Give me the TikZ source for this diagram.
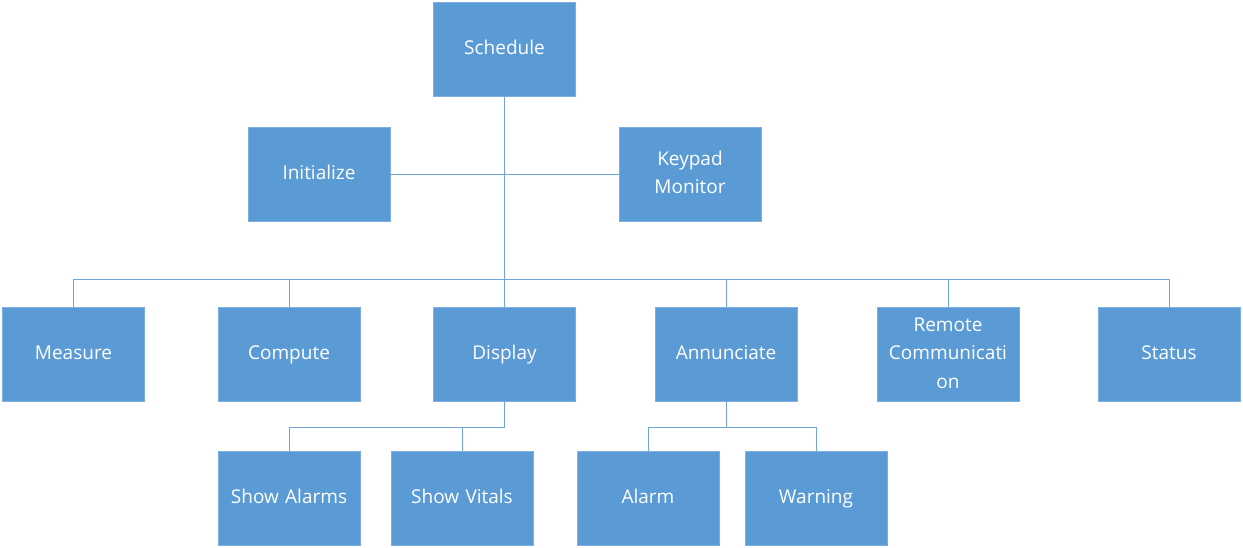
\documentclass[tikz,border=0pt]{standalone}
\usepackage{fontspec}
\setmainfont{Open Sans}
\begin{document}
\begin{tikzpicture}[x=1pt,y=-1pt,
  box/.style={draw=boxblue!80!white, line width=0.6pt, fill=boxblue, text=white, minimum width=142pt, minimum height=94pt, inner sep=0pt, font=\fontsize{19}{28.5}\selectfont, align=center, text width=140pt, execute at begin node=\strut, execute at end node=\strut},
  conn/.style={draw=lineblue, line width=1pt}]
\definecolor{boxblue}{HTML}{5B9BD5}
\definecolor{lineblue}{HTML}{6FA5D8}
\useasboundingbox (0,0) rectangle (1243,547);
\node[box] (sched) at (504.5,49) {Schedule};
\node[box] (init) at (319,174) {Initialize};
\node[box] (key) at (690,174) {Keypad\\Monitor};
\node[box] (meas) at (73.5,354) {Measure};
\node[box] (comp) at (289,354) {Compute};
\node[box] (disp) at (504.5,354) {Display};
\node[box] (ann) at (726,354) {Annunciate};
\node[box] (rem) at (948,354) {Remote\\Communicati\\on};
\node[box] (stat) at (1169,354) {Status};
\node[box] (sa) at (289,498) {Show Alarms};
\node[box] (sv) at (462,498) {Show Vitals};
\node[box] (al) at (648,498) {Alarm};
\node[box] (wa) at (816,498) {Warning};
\coordinate (bus) at (504.5,279);
\coordinate (dbus) at (504.5,427);
\coordinate (abus) at (726,427);
\draw[conn] (sched.south) -- (bus);
\draw[conn] (init.east) -- (key.west);
\draw[conn] (bus) -| (meas.north);
\draw[conn] (bus) -| (comp.north);
\draw[conn] (bus) -- (disp.north);
\draw[conn] (bus) -| (ann.north);
\draw[conn] (bus) -| (rem.north);
\draw[conn] (bus) -| (stat.north);
\draw[conn] (disp.south) -- (dbus);
\draw[conn] (dbus) -| (sa.north);
\draw[conn] (dbus) -| (sv.north);
\draw[conn] (ann.south) -- (abus);
\draw[conn] (abus) -| (al.north);
\draw[conn] (abus) -| (wa.north);
\end{tikzpicture}
\end{document}
